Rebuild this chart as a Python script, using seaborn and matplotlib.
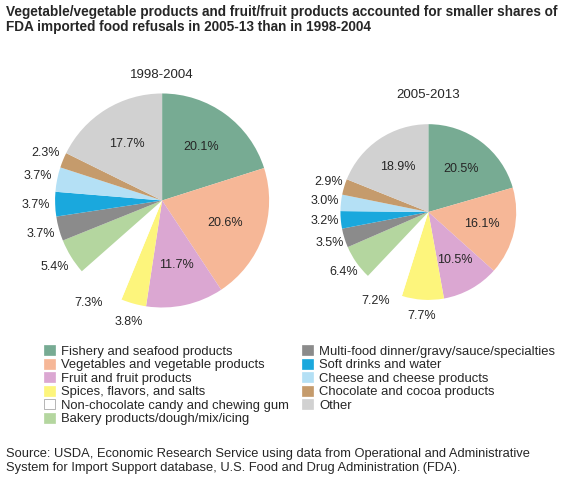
import numpy as np
import matplotlib
matplotlib.use("Agg")
import matplotlib.pyplot as plt
import seaborn as sns

sns.set_theme(style="white")
plt.rcParams['font.family'] = ['Liberation Sans', 'DejaVu Sans']

categories = ["Fishery and seafood products", "Vegetables and vegetable products",
              "Fruit and fruit products", "Spices, flavors, and salts",
              "Non-chocolate candy and chewing gum", "Bakery products/dough/mix/icing",
              "Multi-food dinner/gravy/sauce/specialties", "Soft drinks and water",
              "Cheese and cheese products", "Chocolate and cocoa products", "Other"]
colors = ["#77ab93", "#f6b797", "#dba7d2", "#fdf57c", "#ffffff", "#b4d69f",
          "#8b8b8b", "#1aa8dd", "#b4e0f5", "#c59b6c", "#d1d1d1"]
share_9804 = [20.1, 20.6, 11.7, 3.8, 7.3, 5.4, 3.7, 3.7, 3.7, 2.3, 17.7]
share_0513 = [20.5, 16.1, 10.5, 7.7, 7.2, 6.4, 3.5, 3.2, 3.0, 2.9, 18.9]
inside = {0, 1, 2, 10}

fig = plt.figure(figsize=(5.8, 4.92), dpi=100)
fig.text(0.01, 0.99, "Vegetable/vegetable products and fruit/fruit products accounted for smaller shares of\n"
         "FDA imported food refusals in 2005-13 than in 1998-2004",
         ha="left", va="top", fontsize=9.8, fontweight="bold", linespacing=1.1)


def draw_pie(rect, values, title, title_y):
    ax = fig.add_axes(rect)
    wedges, _ = ax.pie(values, colors=colors, startangle=90, counterclock=False,
                       wedgeprops=dict(edgecolor="none"))
    for i, (w, v) in enumerate(zip(wedges, values)):
        ang = np.deg2rad((w.theta1 + w.theta2) / 2)
        r = 0.62 if i in inside else 1.18
        ax.text(r * np.cos(ang), r * np.sin(ang), f"{v:.1f}%", ha="center", va="center",
                fontsize=9)
    ax.set_aspect("equal")
    ax.set_xlim(-1, 1)
    ax.set_ylim(-1, 1)
    fig.text(rect[0] + rect[2] / 2, title_y, title, ha="center", va="center", fontsize=9.5)
    return wedges


draw_pie([0.095, 0.375, 0.369, 0.435], share_9804, "1998-2004", 0.848)
draw_pie([0.587, 0.390, 0.303, 0.358], share_0513, "2005-2013", 0.806)

handles = [plt.Rectangle((0, 0), 1, 1, facecolor=c, edgecolor="#999999" if c == "#ffffff" else c,
                         linewidth=0.5) for c in colors]
fig.legend(handles, categories, ncol=2, loc="upper left", bbox_to_anchor=(0.065, 0.312),
           frameon=False, fontsize=9.4, handlelength=0.8, handleheight=0.8,
           handletextpad=0.5, labelspacing=0.08, columnspacing=1.0, borderpad=0)

fig.text(0.01, 0.09, "Source: USDA, Economic Research Service using data from Operational and Administrative\n"
         "System for Import Support database, U.S. Food and Drug Administration (FDA).",
         ha="left", va="top", fontsize=9.3, linespacing=1.2)

fig.savefig("out.png", dpi=100)
